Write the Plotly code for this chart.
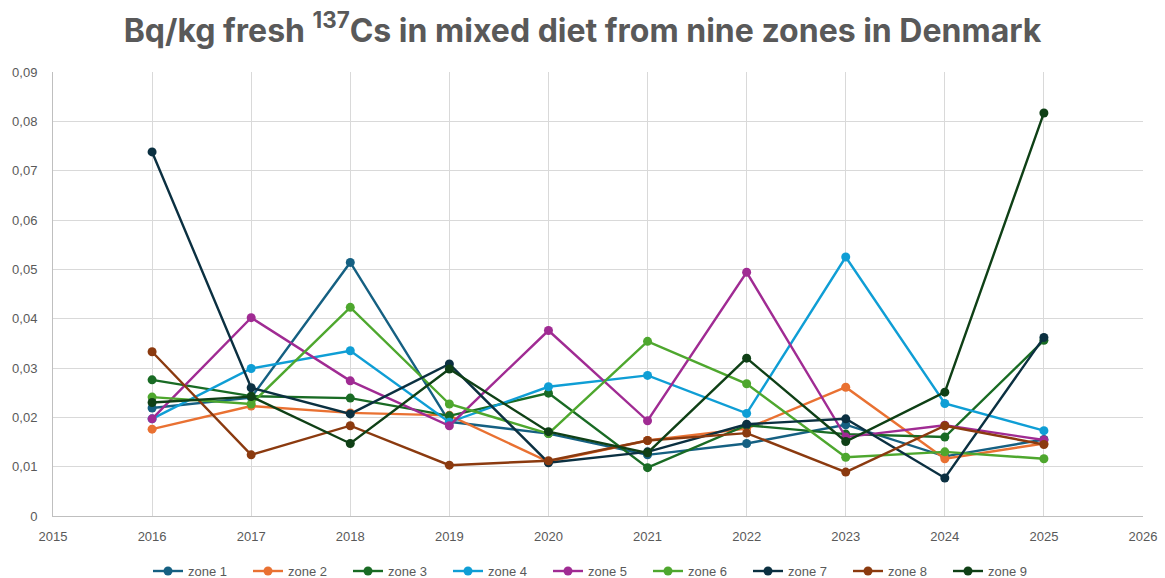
import plotly.graph_objects as go

years = [2016, 2017, 2018, 2019, 2020, 2021, 2022, 2023, 2024, 2025]

zone_names = ["zone 1", "zone 2", "zone 3", "zone 4", "zone 5",
              "zone 6", "zone 7", "zone 8", "zone 9"]

zone1 = [0.0219, 0.0240, 0.0514, 0.0191, 0.0167, 0.0124, 0.0147, 0.0185, 0.0121, 0.0155]
zone2 = [0.0176, 0.0223, 0.0209, 0.0204, 0.0110, 0.0153, 0.0177, 0.0261, 0.0116, 0.0147]
zone3 = [0.0276, 0.0243, 0.0239, 0.0203, 0.0249, 0.0098, 0.0184, 0.0166, 0.0160, 0.0356]
zone4 = [0.0197, 0.0299, 0.0335, 0.0190, 0.0262, 0.0285, 0.0208, 0.0525, 0.0228, 0.0173]
zone5 = [0.0197, 0.0402, 0.0274, 0.0183, 0.0376, 0.0193, 0.0494, 0.0160, 0.0184, 0.0154]
zone6 = [0.0241, 0.0227, 0.0423, 0.0227, 0.0167, 0.0354, 0.0268, 0.0119, 0.0130, 0.0116]
zone7 = [0.0738, 0.0260, 0.0207, 0.0308, 0.0108, 0.0130, 0.0186, 0.0197, 0.0077, 0.0362]
zone8 = [0.0333, 0.0124, 0.0183, 0.0103, 0.0112, 0.0153, 0.0168, 0.0089, 0.0183, 0.0145]
zone9 = [0.0230, 0.0242, 0.0147, 0.0298, 0.0171, 0.0128, 0.0320, 0.0151, 0.0251, 0.0817]

series = [zone1, zone2, zone3, zone4, zone5, zone6, zone7, zone8, zone9]
colors = ["#156082", "#E97132", "#196B24", "#0F9ED5", "#A02B93",
          "#4EA72E", "#0B3041", "#8B3A0F", "#0F4016"]

y_tickvals = [0, 0.01, 0.02, 0.03, 0.04, 0.05, 0.06, 0.07, 0.08, 0.09]
y_ticktext = ["0", "0,01", "0,02", "0,03", "0,04", "0,05", "0,06", "0,07", "0,08", "0,09"]
x_tickvals = list(range(2015, 2027))

fig = go.Figure()
for name, vals, col in zip(zone_names, series, colors):
    fig.add_trace(go.Scatter(
        x=years, y=vals, name=name, mode="lines+markers",
        line=dict(color=col, width=2.4),
        marker=dict(color=col, size=9),
    ))

tickfont = dict(size=13, color="#595959", family="Liberation Sans, Arial, sans-serif")

fig.update_layout(
    width=1165, height=578,
    margin=dict(l=53, r=22, t=72, b=62, autoexpand=False),
    paper_bgcolor="white", plot_bgcolor="white",
    font=dict(family="Liberation Sans, Arial, sans-serif", color="#595959", size=13),
    title=dict(
        text="<b>Bq/kg fresh <sup>137</sup>Cs in mixed diet from nine zones in Denmark</b>",
        x=0.5, xanchor="center", y=0.947, yanchor="middle",
        font=dict(size=32, color="#595959", family="Inter, Open Sans, sans-serif"),
    ),
    xaxis=dict(
        range=[2015, 2026], tickvals=x_tickvals, ticktext=[str(v) for v in x_tickvals],
        showgrid=True, gridcolor="#D9D9D9", gridwidth=1,
        showline=True, linecolor="#BFBFBF", linewidth=1,
        zeroline=False, ticks="", tickfont=tickfont,
        automargin=False, ticklabelstandoff=8,
    ),
    yaxis=dict(
        range=[0, 0.09], tickvals=y_tickvals, ticktext=y_ticktext,
        showgrid=True, gridcolor="#D9D9D9", gridwidth=1,
        showline=True, linecolor="#BFBFBF", linewidth=1,
        zeroline=False, ticks="", tickfont=tickfont,
        automargin=False, ticklabelstandoff=12,
    ),
    legend=dict(
        orientation="h", x=0.5, xanchor="center", y=-0.124, yanchor="middle",
        font=dict(size=13, color="#595959", family="Liberation Sans, Arial, sans-serif"),
        itemwidth=30, entrywidth=55, entrywidthmode="pixels",
        tracegroupgap=0,
    ),
    showlegend=True,
)

fig.write_html("out.html", config={"displayModeBar": False},
               post_script="document.body.style.margin='0';document.body.style.overflow='hidden';")
